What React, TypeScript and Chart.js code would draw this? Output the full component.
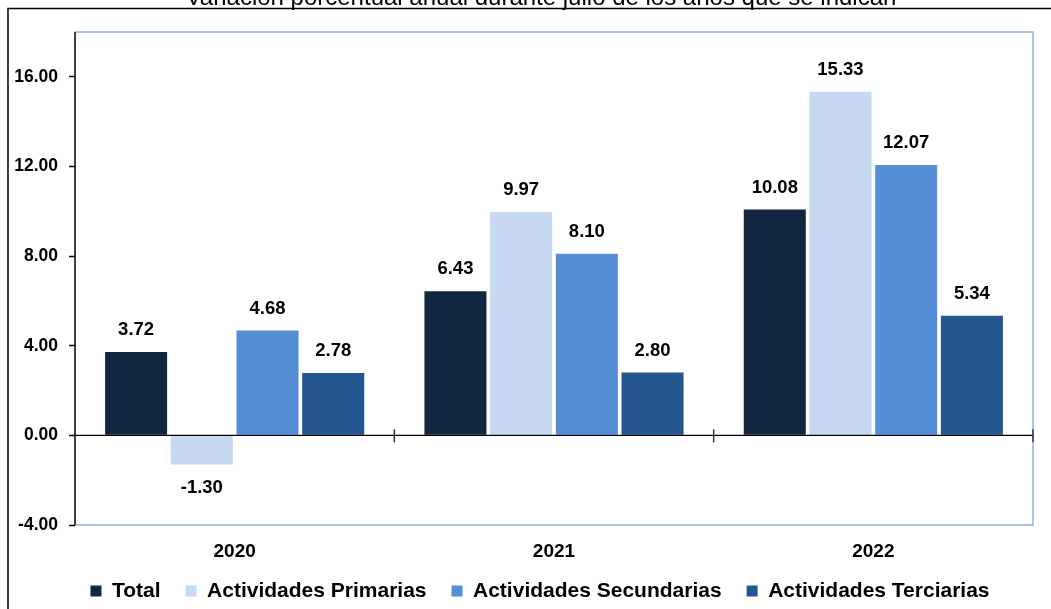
import React, { useEffect, useRef } from "react";
import { Chart, registerables } from "chart.js";

Chart.register(...registerables);

const categories = ["2020", "2021", "2022"];
const seriesNames = ["Total", "Actividades Primarias", "Actividades Secundarias", "Actividades Terciarias"];
const totalValues = [3.72, 6.43, 10.08];
const primariasValues = [-1.3, 9.97, 15.33];
const secundariasValues = [4.68, 8.1, 12.07];
const terciariasValues = [2.78, 2.8, 5.34];
const seriesColors = ["#12263F", "#C6D9F1", "#558ED5", "#23558F"];
const yTickValues = [-4, 0, 4, 8, 12, 16];
const titleText = "Variación porcentual anual durante julio de los años que se indican";

const FONT = "'Liberation Sans', Arial, Helvetica, sans-serif";

const decorPlugin = {
  id: "decor",
  afterLayout(chart: any) {
    const lg = chart.legend;
    if (lg) {
      lg.left += 23.5;
      lg.right += 23.5;
      lg.top -= 9.5;
      lg.bottom -= 9.5;
    }
  },
  beforeDraw(chart: any) {
    const ctx = chart.ctx;
    ctx.save();
    ctx.fillStyle = "#fff";
    ctx.fillRect(0, 0, chart.width, chart.height);
    ctx.restore();
  },
  afterDatasetsDraw(chart: any) {
    const ctx = chart.ctx;
    const { left, right, top, bottom } = chart.chartArea;
    const y = chart.scales.y;
    const x = chart.scales.x;
    ctx.save();
    // plot border (top, right, bottom) light blue
    ctx.strokeStyle = "#8DB3E2";
    ctx.lineWidth = 1.5;
    ctx.beginPath();
    ctx.moveTo(left, top);
    ctx.lineTo(right, top);
    ctx.lineTo(right, bottom);
    ctx.lineTo(left, bottom);
    ctx.stroke();
    // left axis line
    ctx.strokeStyle = "#000";
    ctx.lineWidth = 1.5;
    ctx.beginPath();
    ctx.moveTo(left, top);
    ctx.lineTo(left, bottom);
    ctx.stroke();
    // zero line
    const y0 = y.getPixelForValue(0);
    ctx.lineWidth = 1.3;
    ctx.beginPath();
    ctx.moveTo(left, y0);
    ctx.lineTo(right, y0);
    ctx.stroke();
    // boundary ticks
    ctx.lineWidth = 1.5;
    ctx.strokeStyle = "#333";
    const n = categories.length;
    for (let i = 1; i <= n; i++) {
      const px = i < n ? (x.getPixelForValue(i - 1) + x.getPixelForValue(i)) / 2 : right;
      ctx.beginPath();
      ctx.moveTo(px, y0 - 6);
      ctx.lineTo(px, y0 + 7);
      ctx.stroke();
    }
    // data labels
    ctx.fillStyle = "#000";
    ctx.font = `bold 18.5px ${FONT}`;
    ctx.textAlign = "center";
    ctx.textBaseline = "middle";
    chart.data.datasets.forEach((ds: any, di: number) => {
      const meta = chart.getDatasetMeta(di);
      meta.data.forEach((bar: any, i: number) => {
        const v = ds.data[i];
        const ly = v >= 0 ? bar.y - 22 : bar.y + 23;
        ctx.fillText(v.toFixed(2), bar.x, ly);
      });
    });
    // frame
    ctx.strokeStyle = "#000";
    ctx.lineWidth = 1.5;
    ctx.beginPath();
    ctx.moveTo(8, chart.height + 5);
    ctx.lineTo(8, 8.5);
    ctx.lineTo(chart.width + 5, 8.5);
    ctx.stroke();
    // title (cut off at top)
    ctx.font = `24px ${FONT}`;
    ctx.textBaseline = "alphabetic";
    ctx.fillText(titleText, 541, 4.5);
    ctx.restore();
  },
};

export default function App() {
  const ref = useRef<HTMLCanvasElement | null>(null);
  useEffect(() => {
    if (!ref.current) return;
    const valueSets = [totalValues, primariasValues, secundariasValues, terciariasValues];
    const chart = new Chart(ref.current, {
      type: "bar",
      data: {
        labels: categories,
        datasets: seriesNames.map((name, i) => ({
          label: name,
          data: valueSets[i],
          backgroundColor: seriesColors[i],
          borderWidth: 0,
          categoryPercentage: 0.823,
          barPercentage: 0.944,
        })),
      },
      options: {
        animation: false,
        responsive: false,
        maintainAspectRatio: false,
        layout: { padding: { top: 32, right: 18, left: 0, bottom: -12 } },
        plugins: {
          legend: {
            position: "bottom",
            labels: {
              boxWidth: 11,
              boxHeight: 11,
              padding: 25,
              color: "#000",
              font: { family: FONT, size: 21, weight: "bold" },
            },
          },
          title: { display: false },
          tooltip: { enabled: false },
        },
        scales: {
          x: {
            grid: { display: false },
            border: { display: false },
            afterFit: (scale: any) => {
              scale.height = 40;
            },
            ticks: {
              color: "#000",
              padding: 7,
              font: { family: FONT, size: 19, weight: "bold" },
            },
          },
          y: {
            min: -4,
            max: 18,
            afterBuildTicks: (scale: any) => {
              scale.ticks = yTickValues.map((v) => ({ value: v }));
            },
            afterFit: (scale: any) => {
              scale.width = 75;
            },
            grid: {
              drawOnChartArea: false,
              drawTicks: true,
              tickLength: 6,
              tickColor: "#000",
              tickWidth: 1.5,
            },
            border: { display: false },
            ticks: {
              color: "#000",
              padding: 11,
              font: { family: FONT, size: 17.5, weight: "bold" },
              callback: (v: any) => Number(v).toFixed(2),
            },
          },
        },
      },
      plugins: [decorPlugin],
    });
    return () => chart.destroy();
  }, []);
  return (
    <div style={{ position: "absolute", left: 0, top: 0, width: 1051, height: 609 }}>
      <canvas ref={ref} width={1051} height={609} style={{ display: "block" }} />
    </div>
  );
}
